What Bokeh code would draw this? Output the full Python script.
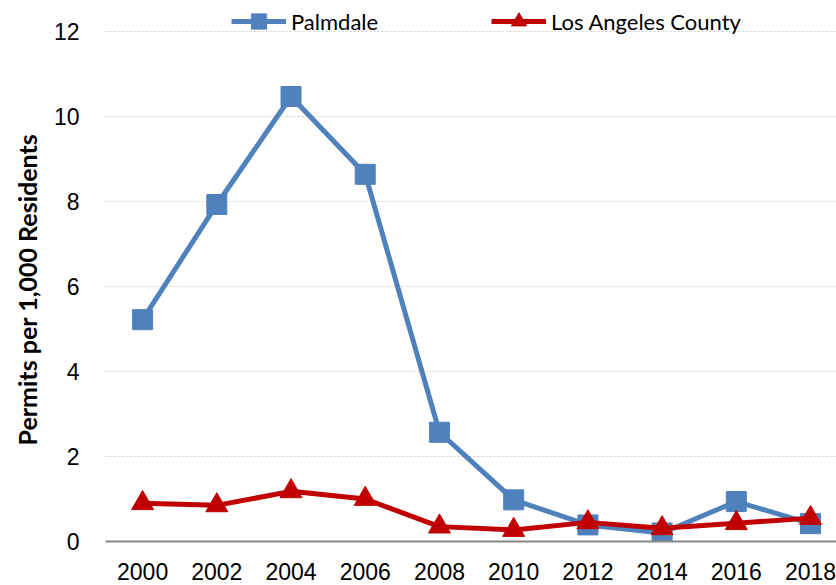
from bokeh.plotting import figure
from bokeh.models import Range1d, FixedTicker, Legend, LegendItem, Title
from bokeh.embed import file_html
from bokeh.resources import INLINE

years = [2000, 2002, 2004, 2006, 2008, 2010, 2012, 2014, 2016, 2018]
tick_labels = ["2000", "2002", "2004", "2006", "2008", "2010", "2012", "2014", "2016", "2018"]
palmdale = [5.22, 7.93, 10.47, 8.64, 2.57, 0.98, 0.39, 0.20, 0.94, 0.42]
la_county = [0.90, 0.85, 1.18, 1.00, 0.35, 0.27, 0.45, 0.31, 0.43, 0.55]
y_ticks = [0, 2, 4, 6, 8, 10, 12]
y_title = "Permits per 1,000 Residents"

BLUE = "#4F81BD"
RED = "#C00000"

p = figure(width=836, height=585, output_backend="svg", toolbar_location=None,
           x_range=Range1d(1999.0, 2018.7), y_range=Range1d(0, 12.729),
           min_border_left=104, min_border_right=0, min_border_top=0, min_border_bottom=44)
p.outline_line_color = None
p.background_fill_color = "white"
p.border_fill_color = "white"

l1 = p.line(years, palmdale, line_color=BLUE, line_width=5, line_join="round")
s1 = p.scatter(years, palmdale, marker="square", size=20, fill_color=BLUE, line_color=BLUE)
l2 = p.line(years, la_county, line_color=RED, line_width=5, line_join="round")
s2 = p.scatter(years, la_county, marker="triangle", size=22, fill_color=RED, line_color=RED)

# axes
p.xaxis.ticker = FixedTicker(ticks=years)
p.xaxis.major_label_overrides = {y: t for y, t in zip(years, tick_labels)}
p.yaxis.ticker = FixedTicker(ticks=y_ticks)
tick_font = "Liberation Sans Narrow, Liberation Sans, Arial"
for ax in (p.xaxis, p.yaxis):
    ax.major_tick_line_color = None
    ax.minor_tick_line_color = None
    ax.major_label_text_font = tick_font
    ax.major_label_text_color = "#000000"
p.xaxis.major_label_text_font_size = "23px"
p.yaxis.major_label_text_font_size = "23px"
p.xaxis.axis_line_color = "#868686"
p.xaxis.axis_line_width = 2
p.xaxis.major_label_standoff = 15
p.yaxis.axis_line_color = None
p.yaxis.major_label_standoff = 20

p.add_layout(Title(text=y_title, align="left", offset=96, standoff=18,
                   vertical_align="bottom",
                   text_font="Lato", text_font_style="bold",
                   text_font_size="25px", text_color="#000000"), "left")

p.xgrid.grid_line_color = None
p.ygrid.grid_line_color = "#d0d0d0"
p.ygrid.grid_line_dash = "2 2"
p.ygrid.grid_line_width = 1

legend = Legend(items=[LegendItem(label="Palmdale", renderers=[l1, s1]),
                       LegendItem(label="Los Angeles County", renderers=[l2, s2])],
                orientation="horizontal", location=(126, 501),
                glyph_width=55, glyph_height=38, label_height=38,
                label_standoff=5, label_width=200, spacing=0,
                padding=0, margin=0, border_line_color=None,
                background_fill_alpha=0,
                label_text_font="Lato", label_text_font_size="22px",
                label_text_color="#000000")
p.add_layout(legend, "center")

open("out.html", "w").write(file_html(p, INLINE))
